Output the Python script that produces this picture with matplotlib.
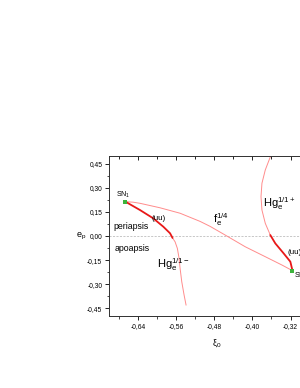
import matplotlib
matplotlib.use("Agg")
import matplotlib.pyplot as plt
from matplotlib.ticker import FuncFormatter, MultipleLocator

plt.rcParams['font.family'] = ['Liberation Sans', 'DejaVu Sans']
plt.rcParams['mathtext.default'] = 'regular'

# f_e^{1/4} branch (SN1 -> SN2)
f_x = [-0.666, -0.650, -0.6355, -0.5935, -0.5515, -0.5095, -0.4885, -0.457, -0.415, -0.373, -0.338, -0.316]
f_y = [0.214, 0.211, 0.204, 0.176, 0.142, 0.091, 0.060, 0.006, -0.067, -0.129, -0.181, -0.216]

# Hg_e^{1/1-} branch: (uu) thick part then thin part
hgm_uu_x = [-0.666, -0.6355, -0.6076, -0.5866, -0.5725, -0.5673]
hgm_uu_y = [0.214, 0.162, 0.110, 0.058, 0.017, -0.012]
hgm_x = [-0.5673, -0.562, -0.5572, -0.5536, -0.5515, -0.548, -0.5431, -0.539]
hgm_y = [-0.012, -0.036, -0.077, -0.139, -0.201, -0.285, -0.368, -0.430]

# Hg_e^{1/1+} branch: thin part then (uu) thick part
hgp_x = [-0.361, -0.373, -0.380, -0.382, -0.380, -0.373, -0.3625]
hgp_y = [0.505, 0.412, 0.329, 0.245, 0.162, 0.079, 0.006]
hgp_uu_x = [-0.3625, -0.352, -0.3346, -0.3205, -0.316]
hgp_uu_y = [0.006, -0.046, -0.108, -0.160, -0.216]

# saddle-node points
sn_x = [-0.666, -0.316]
sn_y = [0.214, -0.216]

fig = plt.figure(figsize=(3.0, 3.88), dpi=100)
ax = fig.add_axes([0.364, 0.185, 0.716, 0.4134])

thin = dict(color='#ff8c8c', lw=0.7, solid_joinstyle='round')
thick = dict(color='#e81818', lw=1.3, solid_joinstyle='round', solid_capstyle='round')

ax.axhline(0, color='#b0b0b0', lw=0.5, ls=(0, (3, 2)), zorder=1)
ax.plot(f_x, f_y, **thin)
ax.plot(hgm_x, hgm_y, **thin)
ax.plot(hgm_uu_x, hgm_uu_y, **thick)
ax.plot(hgp_x, hgp_y, **thin)
ax.plot(hgp_uu_x, hgp_uu_y, **thick)
ax.plot(sn_x, sn_y, 's', color='#3cb43c', ms=2.5, mew=0, zorder=5)

ax.set_xlim(-0.70, -0.25)
ax.set_ylim(-0.50, 0.50)

fmt = FuncFormatter(lambda v, p: f'{v:.2f}'.replace('.', ',').replace('\u2212', '-'))
xt = [-0.64, -0.56, -0.48, -0.40, -0.32]
ax.set_xticks(xt)
ax.xaxis.set_minor_locator(MultipleLocator(0.04))
ax.set_yticks([-0.45, -0.30, -0.15, 0.0, 0.15, 0.30, 0.45])
ax.yaxis.set_minor_locator(MultipleLocator(0.075))
ax.xaxis.set_major_formatter(fmt)
ax.yaxis.set_major_formatter(fmt)
ax.tick_params(which='major', direction='out', length=3, width=0.6, labelsize=4.8, pad=2)
ax.tick_params(which='minor', direction='out', length=1.8, width=0.5)

sec = ax.secondary_xaxis('top')
sec.set_xticks(xt)
sec.xaxis.set_minor_locator(MultipleLocator(0.04))
sec.tick_params(which='both', direction='in', labeltop=False, width=0.6)
sec.tick_params(which='major', length=3)
sec.tick_params(which='minor', length=1.8)
sec.spines['top'].set_visible(False)

for s in ax.spines.values():
    s.set_linewidth(0.7)
    s.set_color('#303030')

ax.set_xlabel(r'$\xi_0$', fontsize=6.5, labelpad=5)
ax.set_ylabel(r'e$_p$', fontsize=6.5, rotation=0, labelpad=4, va='center')

ax.text(-0.685, 0.256, r'SN$_1$', fontsize=5, ha='left', va='center')
ax.text(-0.3136, -0.25, r'SN$_2$', fontsize=5, ha='left', va='center', clip_on=False)
ax.text(-0.611, 0.112, '(uu)', fontsize=5.8, ha='left', va='center')
ax.text(-0.3275, -0.100, '(uu)', fontsize=5.8, ha='left', va='center')
ax.text(-0.6916, 0.058, 'periapsis', fontsize=6.3, ha='left', va='center')
ax.text(-0.6895, -0.077, 'apoapsis', fontsize=6.3, ha='left', va='center')
ax.text(-0.599, -0.200, r'Hg$_{e}^{1/1-}$', fontsize=8, ha='left', va='baseline')
ax.text(-0.4829, 0.079, r'f$_{e}^{1/4}$', fontsize=8, ha='left', va='baseline')
ax.text(-0.378, 0.183, r'Hg$_{e}^{1/1+}$', fontsize=8, ha='left', va='baseline')

fig.savefig('out.png', dpi=100)
